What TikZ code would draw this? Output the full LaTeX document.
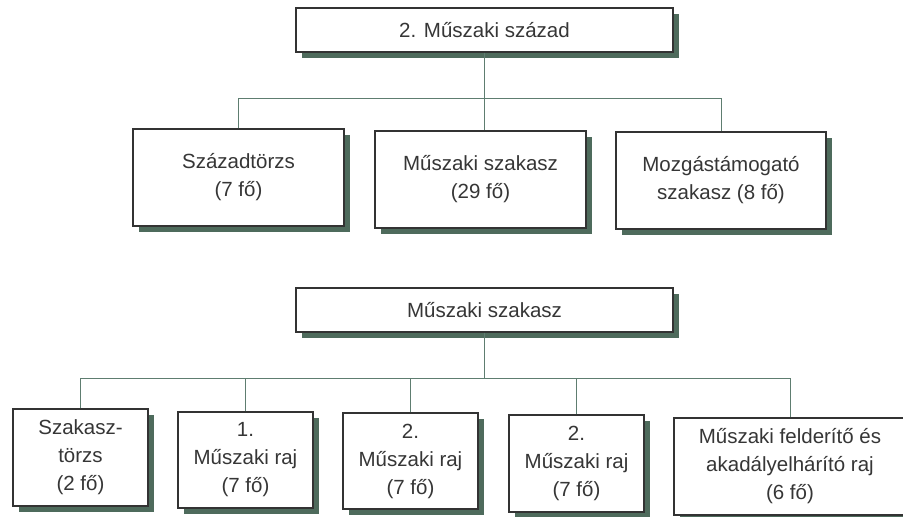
\documentclass[tikz,border=0pt]{standalone}
\usepackage{fontspec}
\setmainfont{Liberation Sans}
\usetikzlibrary{shadows}
\definecolor{shadowgreen}{HTML}{4E6B5C}
\definecolor{linegreen}{HTML}{5E7D70}
\definecolor{textgray}{HTML}{363636}

\begin{document}
\begin{tikzpicture}[x=1pt,y=-1pt,
	unit/.style={draw=black!80,line width=1.1pt,fill=white,inner sep=0pt,align=center,
		text=textgray,font=\fontsize{20.5}{28}\selectfont,
		drop shadow={shadow xshift=6pt,shadow yshift=-6pt,fill=shadowgreen,opacity=1}},
	conn/.style={draw=linegreen,line width=1pt}]
		%\draw[help lines] (0,0) grid (903,517);
		\useasboundingbox (0,0) rectangle (903,517);
		% upper chart
		\node[unit,minimum width=377pt,minimum height=44pt] (szazad) at (484.5,30) {2. Műszaki század};
		\node[unit,minimum width=211pt,minimum height=97pt] (torzs) at (238.5,177.5) {Századtörzs\\(7 fő)};
		\node[unit,minimum width=211pt,minimum height=97pt] (muszaki) at (480.5,179.5) {Műszaki szakasz\\(29 fő)};
		\node[unit,minimum width=210pt,minimum height=97pt] (mozgas) at (721,180.5) {Mozgástámogató\\szakasz (8 fő)};
		\coordinate (bus1) at (484.5,98);
		\draw[conn] (szazad.south) -- (szazad.south |- muszaki.north);
		\draw[conn] (torzs.north) -- (torzs.north |- bus1) -- (mozgas.north |- bus1) -- (mozgas.north);
		% lower chart
		\node[unit,minimum width=377pt,minimum height=44pt] (szakasz) at (484.5,310) {Műszaki szakasz};
		\node[unit,minimum width=135pt,minimum height=97pt] (sztorzs) at (80.5,457.5) {Szakasz-\\törzs\\(2 fő)};
		\node[unit,minimum width=135pt,minimum height=96pt] (raj1) at (245.5,460) {1.\\Műszaki raj\\(7 fő)};
		\node[unit,minimum width=135pt,minimum height=96pt] (raj2) at (410.5,461) {2.\\Műszaki raj\\(7 fő)};
		\node[unit,minimum width=135pt,minimum height=97pt] (raj3) at (576.5,463.5) {2.\\Műszaki raj\\(7 fő)};
		\node[unit,minimum width=232pt,minimum height=97pt] (felderito) at (790,466.5) {Műszaki felderítő és\\akadályelhárító raj\\(6 fő)};
		\coordinate (bus2) at (484.5,378);
		\draw[conn] (szakasz.south) -- (bus2);
		\draw[conn] (sztorzs.north) -- (sztorzs.north |- bus2) -- (felderito.north |- bus2) -- (felderito.north);
		\foreach \n in {raj1,raj2,raj3} {
			\draw[conn] (\n.north) -- (\n.north |- bus2);
		}
\end{tikzpicture}
\end{document}
